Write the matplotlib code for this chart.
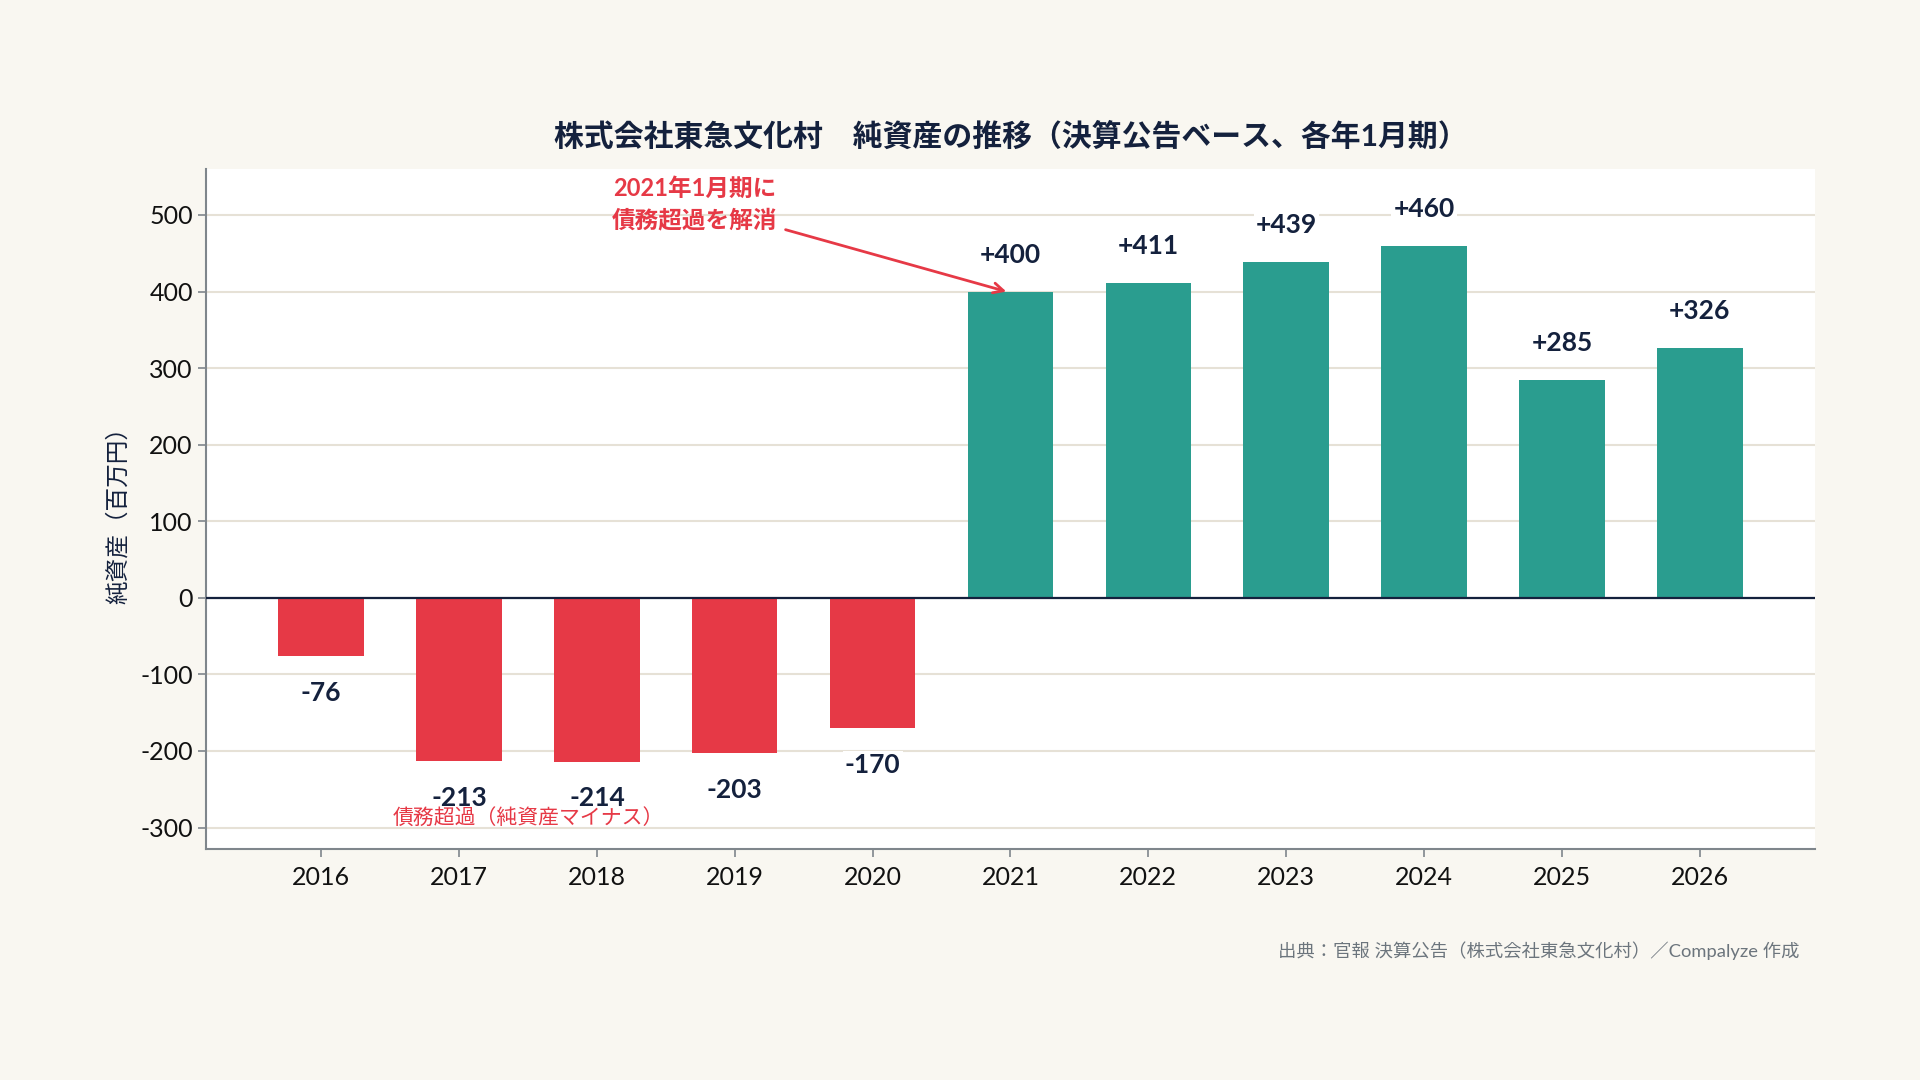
import matplotlib
matplotlib.use('Agg')
import matplotlib.pyplot as plt
import numpy as np

plt.rcParams['font.family'] = ['Lato', 'Noto Sans CJK JP', 'DejaVu Sans']
plt.rcParams['axes.unicode_minus'] = False

# Data (net assets, million yen, January fiscal year end)
years = ['2016', '2017', '2018', '2019', '2020', '2021',
         '2022', '2023', '2024', '2025', '2026']
net_assets = [-76, -213, -214, -203, -170, 400, 411, 439, 460, 285, 326]

title = '株式会社東急文化村　純資産の推移（決算公告ベース、各年1月期）'
ylabel = '純資産（百万円）'
source = '出典：官報 決算公告（株式会社東急文化村）／Compalyze 作成'
note_recover = '2021年1月期に\n債務超過を解消'
note_negative = '債務超過（純資産マイナス）'

RED = '#e63946'
TEAL = '#2a9d8f'
NAVY = '#14213d'
BG = '#f9f7f1'
GRID = '#e6e1d6'

fig = plt.figure(figsize=(19.2, 10.8), dpi=100, facecolor=BG)
ax = fig.add_axes([0.1073, 0.2139, 0.838, 0.6296])
ax.set_facecolor('white')

x = np.arange(len(years))
colors = [RED if v < 0 else TEAL for v in net_assets]
ax.bar(x, net_assets, width=0.62, color=colors, zorder=3)

# value labels
for xi, v in zip(x, net_assets):
    txt = f'+{v}' if v > 0 else f'{v}'
    off = 48 if v > 0 else -48
    ax.text(xi, v + off, txt, ha='center', va='center', fontsize=19,
            fontweight='bold', color=NAVY, zorder=5,
            bbox=dict(facecolor='white', edgecolor='none', pad=1.5))

ax.axhline(0, color=NAVY, lw=1.6, zorder=4)

ax.set_xlim(-0.835, 10.835)
ax.set_ylim(-328, 560)
ax.set_xticks(x)
ax.set_xticklabels(years)
ax.set_yticks(np.arange(-300, 501, 100))
ax.tick_params(axis='both', labelsize=18, colors='#7f868c', labelcolor='#111111',
               length=6, width=1.2)
ax.tick_params(axis='x', pad=6)
ax.grid(axis='y', color=GRID, lw=1.5, zorder=0)
ax.set_axisbelow(True)
for s in ['top', 'right']:
    ax.spines[s].set_visible(False)
for s in ['left', 'bottom']:
    ax.spines[s].set_color('#7f868c')
    ax.spines[s].set_linewidth(1.5)

ax.set_ylabel(ylabel, fontsize=17, color=NAVY, labelpad=8)
ax.set_title(title, fontsize=21.5, fontweight='bold', color=NAVY, pad=17)

# annotations
ax.annotate(note_recover, xy=(4.97, 400), xytext=(2.71, 514),
            ha='center', va='center', fontsize=17, fontweight='bold',
            color=RED, linespacing=1.45, zorder=6,
            arrowprops=dict(arrowstyle='->', color=RED, lw=2,
                            mutation_scale=18, shrinkA=4, shrinkB=0))
ax.text(1.5, -288, note_negative, ha='center', va='center',
        fontsize=15, color=RED, zorder=6)

fig.text(1800 / 1920, 1 - 951 / 1080, source, ha='right', va='center',
         fontsize=13.2, color='#6c757d')

fig.savefig('out.png', dpi=100, facecolor=BG)
